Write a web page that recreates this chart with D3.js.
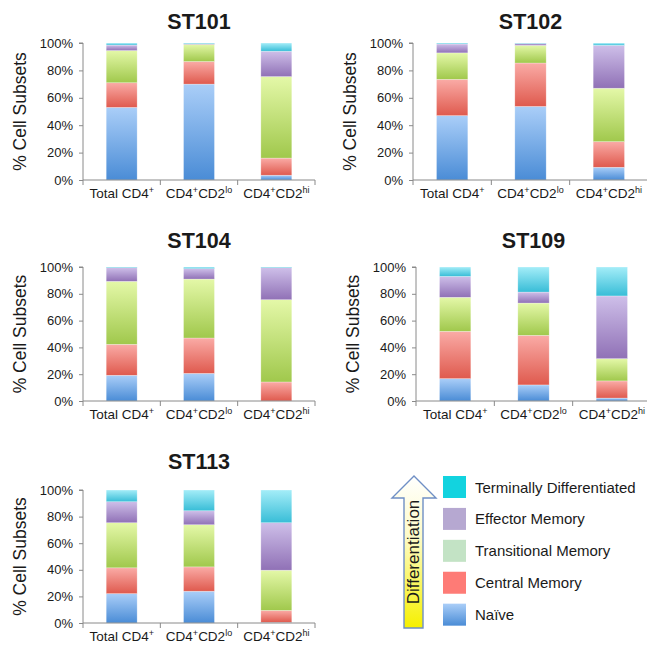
<!DOCTYPE html>
<html><head><meta charset="utf-8">
<script src="https://cdn.jsdelivr.net/npm/d3@7"></script>
<style>body{margin:0;background:#fff}svg{display:block}text{font-family:"Liberation Sans",Arial,sans-serif;fill:#1a1a1a}</style>
</head><body><svg id="c" width="647" height="648"></svg>
<script>
// ---- data ----
const seriesNames = ["Naïve","Central Memory","Transitional Memory","Effector Memory","Terminally Differentiated"];
const categories = ["Total CD4+","CD4+CD2lo","CD4+CD2hi"];
const yTicks = [0,20,40,60,80,100];
const subjects = ["ST101","ST102","ST104","ST109","ST113"];
// rows = categories, columns = series (bottom to top), percent
const ST101 = [[53,18,23.5,4,1.5],[70,16.5,12.5,0.5,0.5],[3.5,12.5,59.5,18.5,6]];
const ST102 = [[47,26.5,19.3,6.5,0.7],[53.7,31.7,12.9,1.4,0.3],[9.3,18.7,39,31.3,1.7]];
const ST104 = [[19.2,23.1,47,10.2,0.5],[20.6,26.4,44,7.8,1.2],[0,14.2,61.4,23.9,0.5]];
const ST109 = [[16.7,35.3,25.4,15.6,7],[12,37,24.1,8.2,18.7],[2.2,12.8,16.6,46.8,21.6]];
const ST113 = [[22.1,19.4,33.9,15.8,8.8],[23.9,18.3,31.7,10.5,15.6],[0.5,9,30.2,35.7,24.6]];
const subjectData = [ST101,ST102,ST104,ST109,ST113];

// ---- styles ----
const barGrad = [["#aacef8","#4a8cd6"],["#faaba6","#df5a4e"],["#e4f8a8","#a0c84c"],["#cebfe9","#9071b6"],["#a4edf8","#38bdd7"]];
const legendFill = ["url(#gLegNaive)","#fe7b76","#c3e3c5","#b6a8d1","#12d3df"];

const svg = d3.select("#c");
const defs = svg.append("defs");
barGrad.forEach((g,i)=>{
  const lg = defs.append("linearGradient").attr("id","g"+i).attr("x1",0).attr("y1",0).attr("x2",0).attr("y2",1);
  lg.append("stop").attr("offset","0%").attr("stop-color",g[0]);
  lg.append("stop").attr("offset","100%").attr("stop-color",g[1]);
});
{
  const lg = defs.append("linearGradient").attr("id","gLegNaive").attr("x1",0).attr("y1",0).attr("x2",0).attr("y2",1);
  lg.append("stop").attr("offset","0%").attr("stop-color","#aacef8");
  lg.append("stop").attr("offset","100%").attr("stop-color","#4a8cd6");
  const ag = defs.append("linearGradient").attr("id","gArrow").attr("x1",0).attr("y1",0).attr("x2",0).attr("y2",1);
  ag.append("stop").attr("offset","0%").attr("stop-color","#ffffff");
  ag.append("stop").attr("offset","40%").attr("stop-color","#fdfbc8");
  ag.append("stop").attr("offset","100%").attr("stop-color","#f6f000");
}

// panel layout
const layout = [
  {ax:83, top:43, bot:180, w:232, tY:29},
  {ax:413, top:43, bot:180, w:235, tY:29},
  {ax:83, top:267, bot:401, w:232, tY:248},
  {ax:416, top:267, bot:401, w:235, tY:248},
  {ax:83, top:490, bot:623, w:232, tY:469}
];

function catLabel(sel, s){
  const m = s.match(/^(.*CD4)\+(CD2)?(lo|hi)?$/);
  sel.append("tspan").text(m[1]);
  sel.append("tspan").text("+").attr("font-size","9px").attr("dy","-5");
  if(m[2]){
    sel.append("tspan").text(m[2]).attr("dy","5");
    sel.append("tspan").text(m[3]).attr("font-size","9px").attr("dy","-5");
  }
}

subjects.forEach((name,pi)=>{
  const L = layout[pi];
  const data = subjectData[pi];
  const g = svg.append("g");
  const x = d3.scaleBand().domain(categories).range([L.ax, L.ax+L.w]).paddingInner(0.6).paddingOuter(0.3);
  const y = d3.scaleLinear().domain([0,100]).range([L.bot, L.top]);
  const rows = data.map((r,ci)=>{const o={cat:categories[ci]}; r.forEach((v,si)=>o["s"+si]=v); return o;});
  const stack = d3.stack().keys(seriesNames.map((_,i)=>"s"+i))(rows);
  stack.forEach((layer,si)=>{
    g.selectAll(null).data(layer).enter().append("rect")
      .attr("x",d=>x(d.data.cat)).attr("width",x.bandwidth())
      .attr("y",d=>y(d[1])).attr("height",d=>Math.max(0,y(d[0])-y(d[1])))
      .attr("fill","url(#g"+si+")")
      .attr("stroke","#ffffff").attr("stroke-opacity",0.45).attr("stroke-width",0.6);
  });
  // y axis
  const ya = g.append("g").attr("transform",`translate(${L.ax},0)`)
    .call(d3.axisLeft(y).tickValues(yTicks).tickFormat(d=>d+"%").tickSize(4).tickPadding(6));
  ya.select(".domain").attr("stroke","#8a8a8a").attr("d",`M-4,${L.top}H0V${L.bot}`);
  ya.selectAll(".tick line").attr("stroke","#8a8a8a");
  ya.selectAll(".tick text").attr("font-size","13px").attr("font-family","Liberation Sans, Arial, sans-serif").attr("fill","#1a1a1a");
  // x axis
  const xa = g.append("g");
  xa.append("line").attr("x1",L.ax).attr("x2",L.ax+L.w).attr("y1",L.bot).attr("y2",L.bot).attr("stroke","#8a8a8a");
  const bounds = d3.range(0,4).map(i=>L.ax+i*(L.w/3));
  xa.selectAll(null).data(bounds).enter().append("line")
    .attr("x1",d=>d).attr("x2",d=>d).attr("y1",L.bot).attr("y2",L.bot+5).attr("stroke","#8a8a8a");
  categories.forEach(c=>{
    const t = xa.append("text").attr("x",x(c)+x.bandwidth()/2).attr("y",L.bot+18)
      .attr("text-anchor","middle").attr("font-size","13.5px");
    catLabel(t,c);
  });
  // title
  g.append("text").attr("x",L.ax+L.w/2).attr("y",L.tY).attr("text-anchor","middle")
    .attr("font-size","21.5px").attr("font-weight","bold").text(name);
  // y label
  g.append("text").attr("transform",`translate(${L.ax-57},${(L.top+L.bot)/2}) rotate(-90)`)
    .attr("text-anchor","middle").attr("font-size","17.5px").text("% Cell Subsets");
});

// ---- legend ----
const leg = svg.append("g");
const legendOrder = d3.range(seriesNames.length).reverse();
const ly = d3.scaleBand().domain(legendOrder).range([476,626]).paddingInner(0.3);
legendOrder.forEach(si=>{
  leg.append("rect").attr("x",443).attr("y",ly(si)).attr("width",23).attr("height",22)
    .attr("fill",legendFill[si]);
  leg.append("text").attr("x",475).attr("y",ly(si)+16.5).attr("font-size","15px").text(seriesNames[si]);
});
// arrow
const ap = d3.path();
ap.moveTo(414,476); ap.lineTo(436,498); ap.lineTo(423,498); ap.lineTo(423,628);
ap.lineTo(404,628); ap.lineTo(404,498); ap.lineTo(392,498); ap.closePath();
leg.append("path").attr("d",ap.toString()).attr("fill","url(#gArrow)").attr("stroke","#6f8fc5").attr("stroke-width",1.4);
leg.append("text").attr("transform","translate(419,552) rotate(-90)").attr("text-anchor","middle")
  .attr("font-size","17px").text("Differentiation");
</script></body></html>
